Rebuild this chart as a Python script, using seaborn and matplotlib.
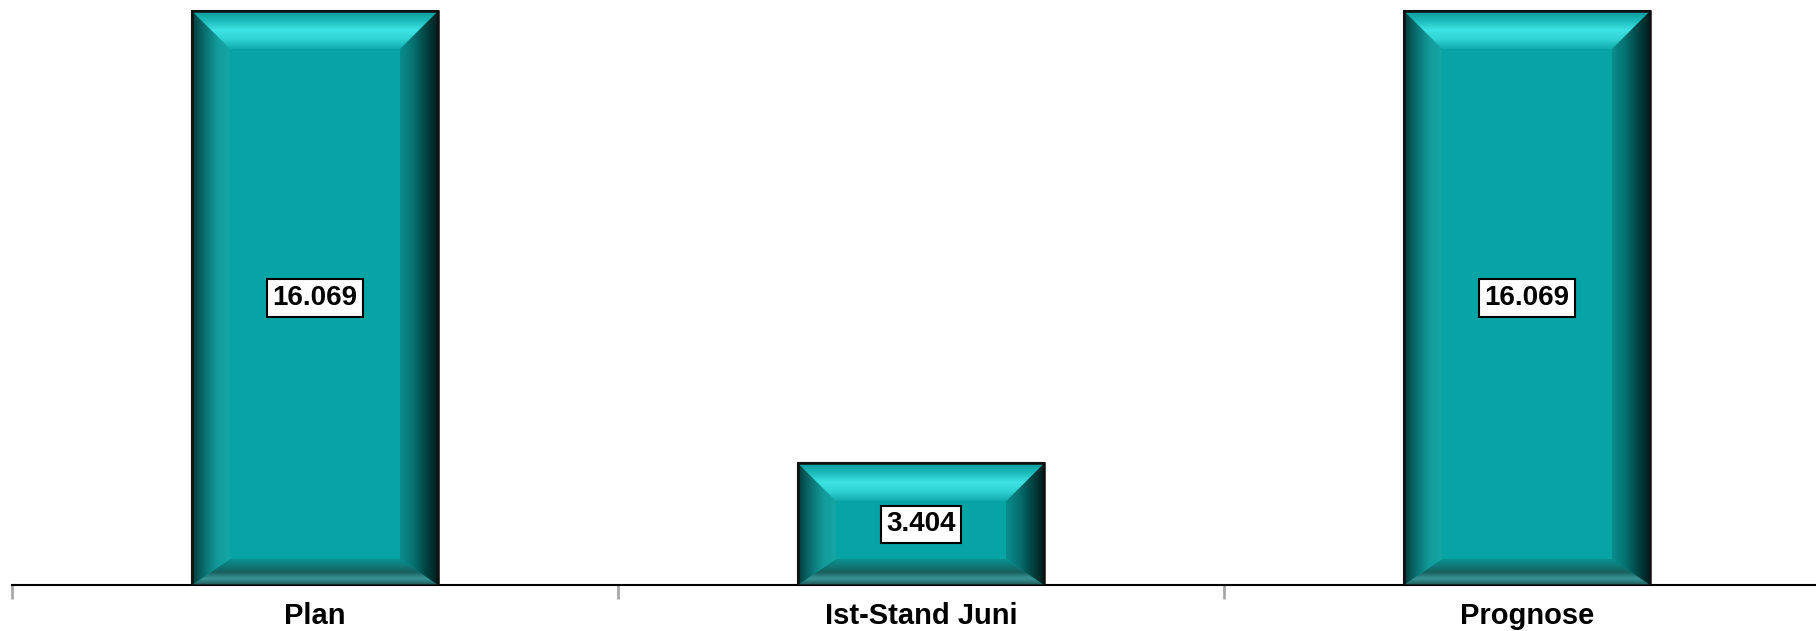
import numpy as np
import pandas as pd
import seaborn as sns
import matplotlib.pyplot as plt
from matplotlib.colors import LinearSegmentedColormap
from matplotlib.patches import Polygon, Rectangle

categories = ["Plan", "Ist-Stand Juni", "Prognose"]
values = [16069, 3404, 16069]
value_labels = ["16.069", "3.404", "16.069"]

df = pd.DataFrame({"Kategorie": categories, "Wert": values})

sns.set_style("white")
plt.rcParams["font.family"] = ["Liberation Sans", "DejaVu Sans"]

fig = plt.figure(figsize=(18.16, 6.31), dpi=100)
ax = fig.add_axes([12 / 1816, 46 / 631, 1818 / 1816, 585 / 631])

sns.barplot(data=df, x="Kategorie", y="Wert", color="#06a4a4", saturation=1,
            width=0.406, edgecolor="#111111", linewidth=1.5, ax=ax)

ymax = 16380
ax.set_xlim(-0.5, 2.5)
ax.set_ylim(0, ymax)

# bevel colour ramps, from outer edge to inner edge
cm_top = LinearSegmentedColormap.from_list("top", ["#0c9a9a", "#1cbaba", "#3ee2e2", "#30d2d2", "#10abab"])
cm_left = LinearSegmentedColormap.from_list("left", ["#063a3a", "#0b7070", "#139a9a", "#17a6a6"])
cm_right = LinearSegmentedColormap.from_list("right", ["#011c1c", "#034646", "#077272", "#0a8e8e"])
cm_bot = LinearSegmentedColormap.from_list("bot", ["#1d5858", "#3a9696", "#185f5f", "#0e7a7a", "#0b9090"])

bx = 38 / 606
bt = 38 * ymax / 585
bb = 26 * ymax / 585


def bevel(pts, arr, cmap, extent):
    poly = Polygon(pts, closed=True, facecolor="none", edgecolor="none", transform=ax.transData)
    ax.add_patch(poly)
    im = ax.imshow(arr, cmap=cmap, extent=extent, origin="lower", aspect="auto",
                   interpolation="bilinear", vmin=0, vmax=1, zorder=3)
    im.set_clip_path(poly)


g = np.linspace(0, 1, 256)
for p in list(ax.patches):
    x0 = p.get_x()
    x1 = x0 + p.get_width()
    y0 = p.get_y()
    y1 = y0 + p.get_height()
    bevel([(x0, y1), (x1, y1), (x1 - bx, y1 - bt), (x0 + bx, y1 - bt)],
          g[::-1][:, None], cm_top, (x0, x1, y1 - bt, y1))
    bevel([(x0, y0), (x1, y0), (x1 - bx, y0 + bb), (x0 + bx, y0 + bb)],
          g[:, None], cm_bot, (x0, x1, y0, y0 + bb))
    bevel([(x0, y0), (x0, y1), (x0 + bx, y1 - bt), (x0 + bx, y0 + bb)],
          g[None, :], cm_left, (x0, x0 + bx, y0, y1))
    bevel([(x1, y0), (x1, y1), (x1 - bx, y1 - bt), (x1 - bx, y0 + bb)],
          g[::-1][None, :], cm_right, (x1 - bx, x1, y0, y1))
    ax.add_patch(Rectangle((x0, y0), x1 - x0, y1 - y0, fill=False,
                           edgecolor="#111111", linewidth=1.8, zorder=4))

ax.set_xlim(-0.5, 2.5)
ax.set_ylim(0, ymax)

for i, (v, lab) in enumerate(zip(values, value_labels)):
    ax.text(i, v / 2, lab, ha="center", va="center", fontsize=20, fontweight="bold",
            color="black", zorder=6,
            bbox=dict(boxstyle="square,pad=0.2", facecolor="white",
                      edgecolor="black", linewidth=1.5))

ax.set_xticks([-0.5, 0.5, 1.5, 2.5], minor=True)
ax.tick_params(axis="x", which="both", bottom=True)
ax.tick_params(axis="x", which="minor", length=10, width=2, color="#a8a8a8", direction="out")
ax.tick_params(axis="x", which="major", length=0, pad=12, labelsize=21, labelcolor="black")
for t in ax.get_xticklabels():
    t.set_fontweight("bold")

ax.set_yticks([])
ax.set_xlabel("")
ax.set_ylabel("")
for s in ["top", "left", "right"]:
    ax.spines[s].set_visible(False)
ax.spines["bottom"].set_color("black")
ax.spines["bottom"].set_linewidth(1.5)

fig.savefig("out.png", dpi=100)
